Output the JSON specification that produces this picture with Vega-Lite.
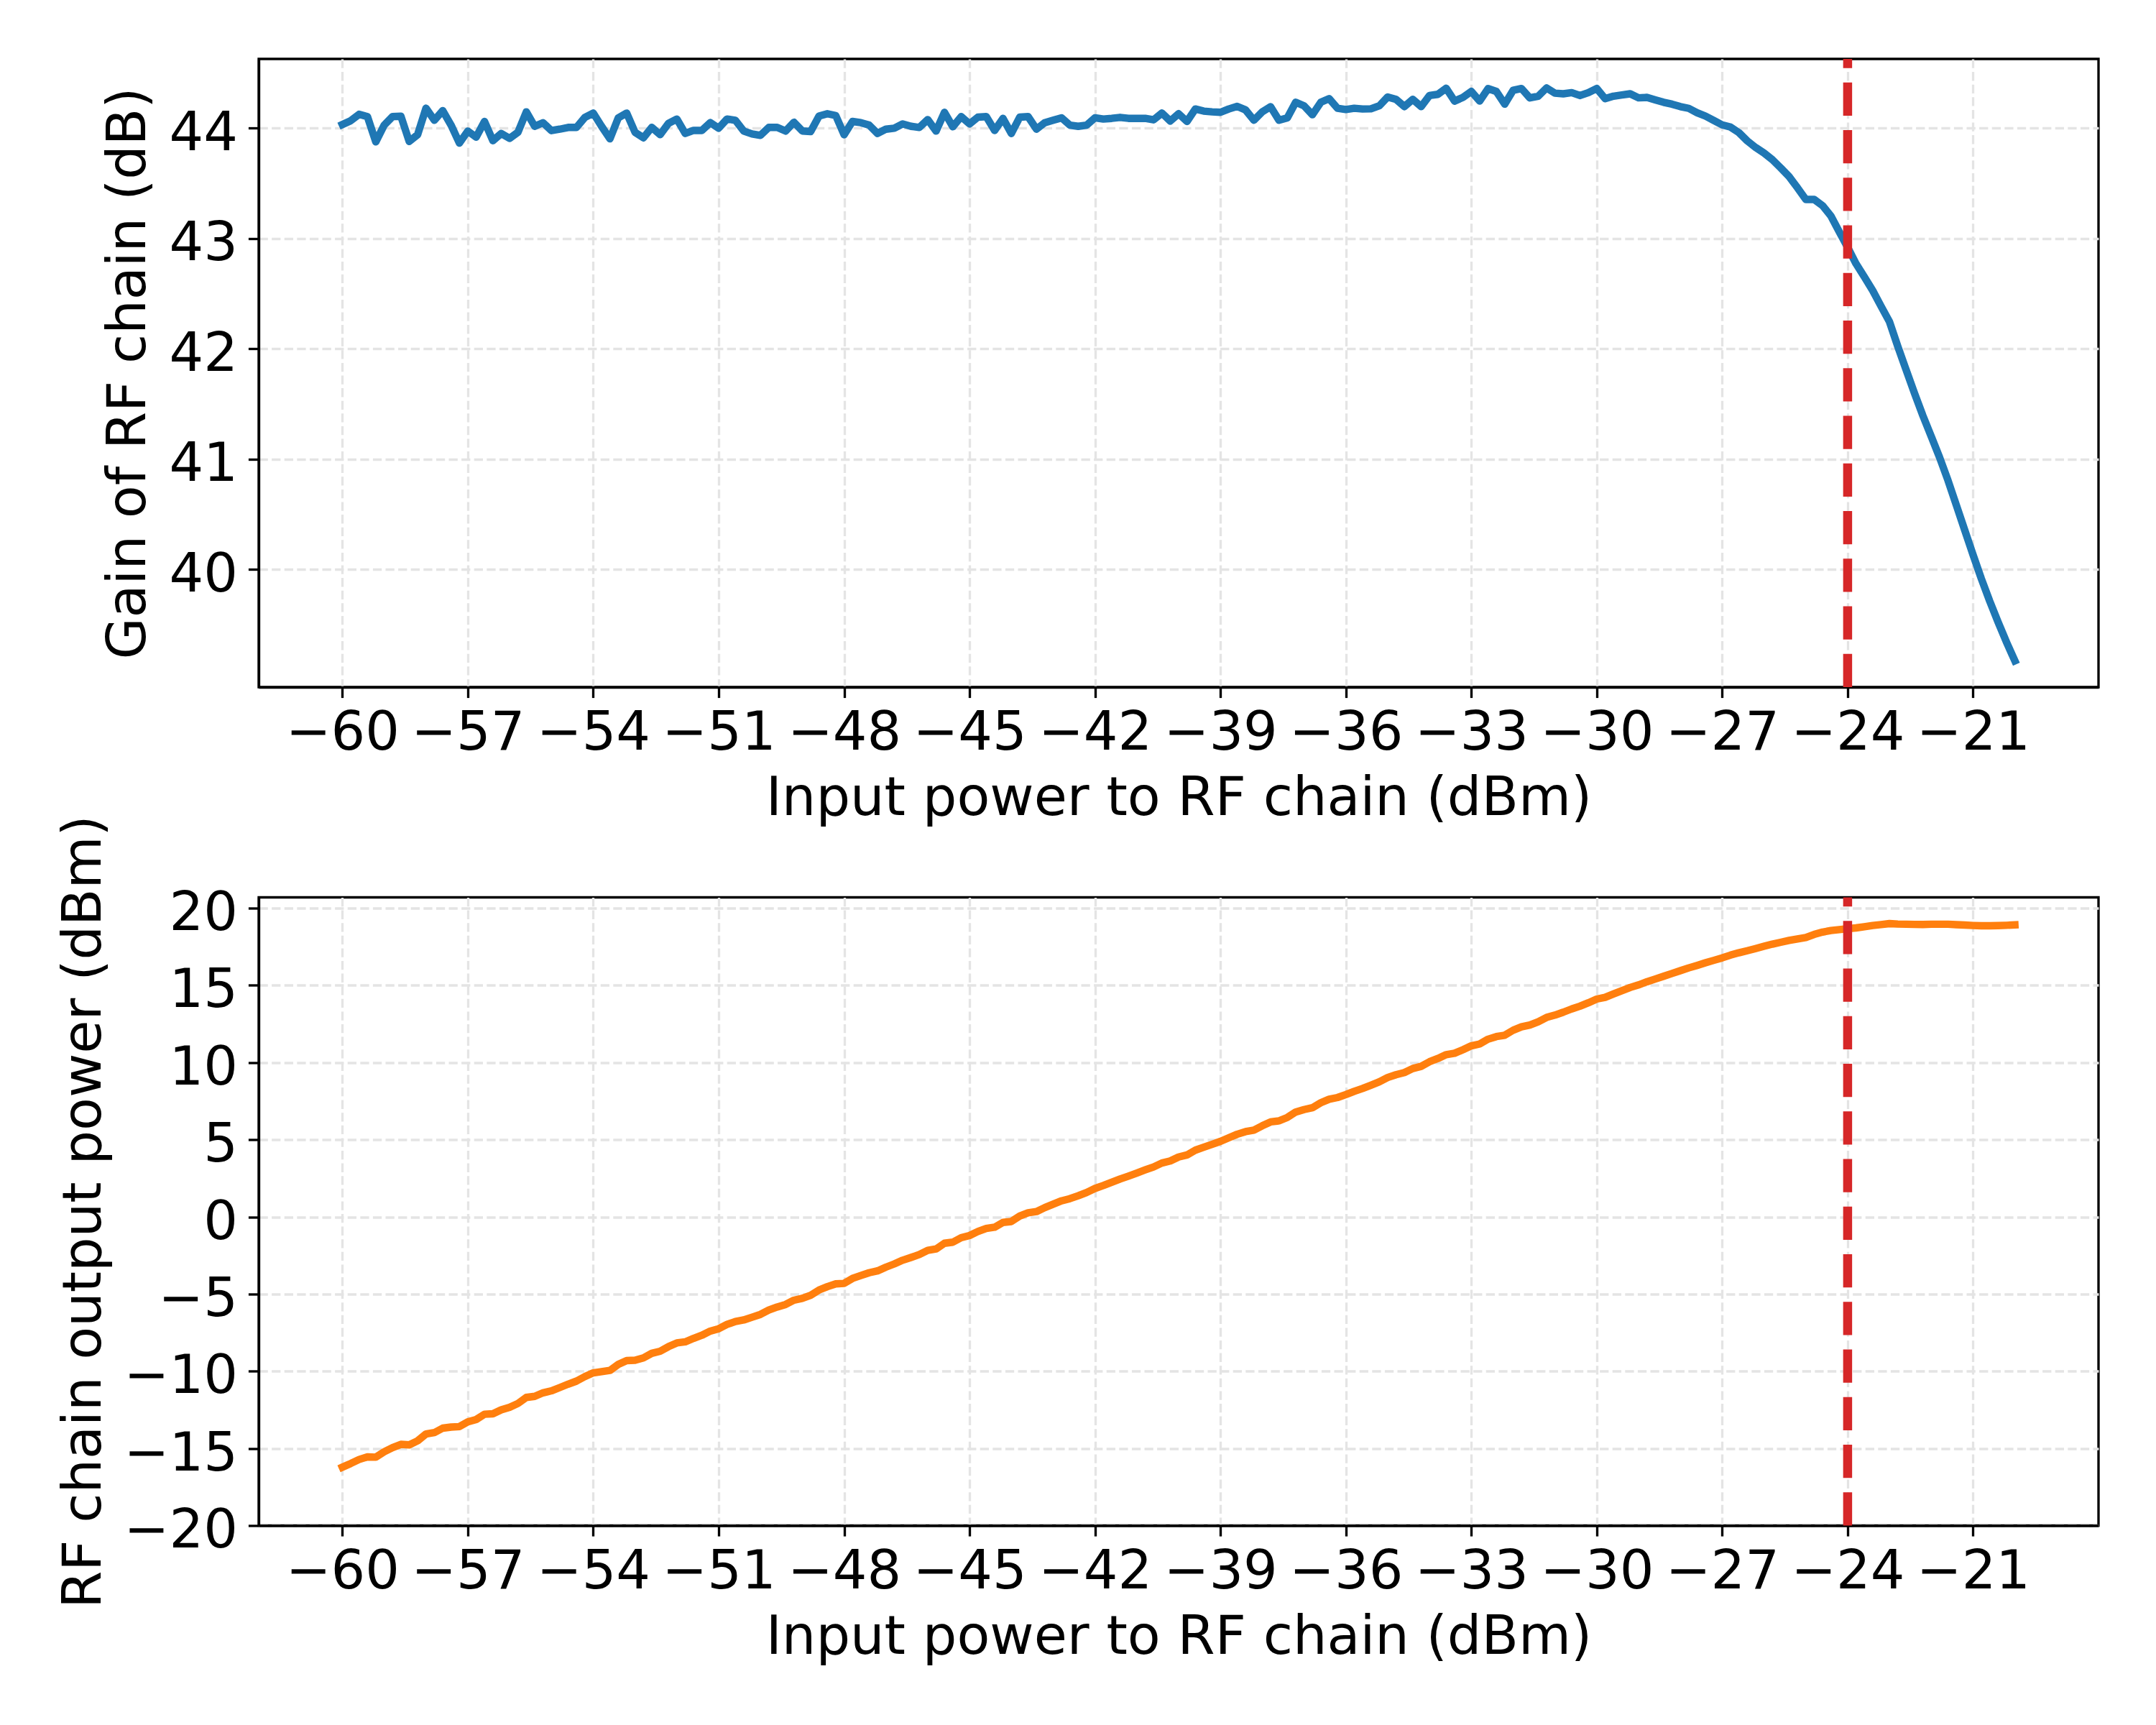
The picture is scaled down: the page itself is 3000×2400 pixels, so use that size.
{
  "$schema": "https://vega.github.io/schema/vega-lite/v6.json",
  "background": "white",
  "padding": {"left": 77, "top": 74, "right": 20, "bottom": 20},
  "bounds": "flush",
  "spacing": 292.5,
  "config": {
    "view": {"stroke": "black", "strokeWidth": 3.33},
    "font": "DejaVu Sans",
    "axis": {
      "domain": true,
      "domainColor": "black",
      "domainWidth": 3.33,
      "grid": true,
      "gridColor": "#e4e4e4",
      "gridWidth": 3.33,
      "gridDash": [12.3, 5.3],
      "tickColor": "black",
      "tickWidth": 3.33,
      "tickSize": 14.6,
      "labelFont": "DejaVu Sans",
      "labelFontSize": 75,
      "labelColor": "black",
      "titleFont": "DejaVu Sans",
      "titleFontSize": 75,
      "titleFontWeight": "normal",
      "titleColor": "black",
      "labelFlush": false,
      "labelOverlap": false,
      "format": "d"
    },
    "axisX": {"labelPadding": 13, "titlePadding": 17},
    "axisY": {"labelPadding": 15, "titlePadding": 17, "labelOffset": 7}
  },
  "datasets": {
    "meas": [
      {"x":-60,"g":44.033,"p":-16.22},{"x":-59.8,"g":44.068,"p":-15.98},{"x":-59.6,"g":44.126,"p":-15.72},{"x":-59.4,"g":44.105,"p":-15.55},{"x":-59.2,"g":43.876,"p":-15.57},
      {"x":-59,"g":44.028,"p":-15.22},{"x":-58.8,"g":44.105,"p":-14.95},{"x":-58.6,"g":44.109,"p":-14.74},{"x":-58.4,"g":43.88,"p":-14.77},{"x":-58.2,"g":43.941,"p":-14.51},
      {"x":-58,"g":44.181,"p":-14.07},{"x":-57.8,"g":44.072,"p":-13.98},{"x":-57.6,"g":44.159,"p":-13.69},{"x":-57.4,"g":44.028,"p":-13.62},{"x":-57.2,"g":43.865,"p":-13.59},
      {"x":-57,"g":43.974,"p":-13.28},{"x":-56.8,"g":43.919,"p":-13.13},{"x":-56.6,"g":44.061,"p":-12.79},{"x":-56.4,"g":43.887,"p":-12.76},{"x":-56.2,"g":43.952,"p":-12.5},
      {"x":-56,"g":43.908,"p":-12.34},{"x":-55.8,"g":43.963,"p":-12.09},{"x":-55.6,"g":44.148,"p":-11.7},{"x":-55.4,"g":44.017,"p":-11.63},{"x":-55.2,"g":44.05,"p":-11.4},
      {"x":-55,"g":43.978,"p":-11.27},{"x":-54.8,"g":43.991,"p":-11.06},{"x":-54.6,"g":44.007,"p":-10.84},{"x":-54.4,"g":44.007,"p":-10.64},{"x":-54.2,"g":44.098,"p":-10.35},
      {"x":-54,"g":44.137,"p":-10.11},{"x":-53.8,"g":44.017,"p":-10.03},{"x":-53.6,"g":43.904,"p":-9.95},{"x":-53.4,"g":44.094,"p":-9.56},{"x":-53.2,"g":44.137,"p":-9.31},
      {"x":-53,"g":43.963,"p":-9.29},{"x":-52.8,"g":43.913,"p":-9.14},{"x":-52.6,"g":44.007,"p":-8.84},{"x":-52.4,"g":43.941,"p":-8.71},{"x":-52.2,"g":44.044,"p":-8.41},
      {"x":-52,"g":44.083,"p":-8.17},{"x":-51.8,"g":43.952,"p":-8.1},{"x":-51.6,"g":43.98,"p":-7.87},{"x":-51.4,"g":43.98,"p":-7.67},{"x":-51.2,"g":44.05,"p":-7.4},
      {"x":-51,"g":44.0,"p":-7.25},{"x":-50.8,"g":44.083,"p":-6.97},{"x":-50.6,"g":44.072,"p":-6.78},{"x":-50.4,"g":43.974,"p":-6.68},{"x":-50.2,"g":43.948,"p":-6.5},
      {"x":-50,"g":43.935,"p":-6.32},{"x":-49.8,"g":44.007,"p":-6.04},{"x":-49.6,"g":44.007,"p":-5.84},{"x":-49.4,"g":43.974,"p":-5.68},{"x":-49.2,"g":44.054,"p":-5.4},
      {"x":-49,"g":43.975,"p":-5.28},{"x":-48.8,"g":43.97,"p":-5.08},{"x":-48.6,"g":44.11,"p":-4.74},{"x":-48.4,"g":44.131,"p":-4.52},{"x":-48.2,"g":44.115,"p":-4.34},
      {"x":-48,"g":43.941,"p":-4.31},{"x":-47.8,"g":44.061,"p":-3.99},{"x":-47.6,"g":44.05,"p":-3.8},{"x":-47.4,"g":44.028,"p":-3.62},{"x":-47.2,"g":43.952,"p":-3.5},
      {"x":-47,"g":43.991,"p":-3.26},{"x":-46.8,"g":44.0,"p":-3.05},{"x":-46.6,"g":44.039,"p":-2.81},{"x":-46.4,"g":44.017,"p":-2.63},{"x":-46.2,"g":44.007,"p":-2.44},
      {"x":-46,"g":44.078,"p":-2.17},{"x":-45.8,"g":43.974,"p":-2.08},{"x":-45.6,"g":44.144,"p":-1.71},{"x":-45.4,"g":44.013,"p":-1.64},{"x":-45.2,"g":44.105,"p":-1.35},
      {"x":-45,"g":44.039,"p":-1.21},{"x":-44.8,"g":44.1,"p":-0.95},{"x":-44.6,"g":44.105,"p":-0.75},{"x":-44.4,"g":43.98,"p":-0.67},{"x":-44.2,"g":44.089,"p":-0.36},
      {"x":-44,"g":43.952,"p":-0.3},{"x":-43.8,"g":44.1,"p":0.05},{"x":-43.6,"g":44.105,"p":0.26},{"x":-43.4,"g":43.991,"p":0.34},{"x":-43.2,"g":44.05,"p":0.6},
      {"x":-43,"g":44.072,"p":0.82},{"x":-42.8,"g":44.094,"p":1.04},{"x":-42.6,"g":44.028,"p":1.18},{"x":-42.4,"g":44.017,"p":1.37},{"x":-42.2,"g":44.028,"p":1.58},
      {"x":-42,"g":44.094,"p":1.84},{"x":-41.8,"g":44.083,"p":2.03},{"x":-41.6,"g":44.089,"p":2.24},{"x":-41.4,"g":44.098,"p":2.45},{"x":-41.2,"g":44.089,"p":2.64},
      {"x":-41,"g":44.089,"p":2.84},{"x":-40.8,"g":44.089,"p":3.04},{"x":-40.6,"g":44.076,"p":3.23},{"x":-40.4,"g":44.137,"p":3.49},{"x":-40.2,"g":44.065,"p":3.62},
      {"x":-40,"g":44.131,"p":3.88},{"x":-39.8,"g":44.061,"p":4.01},{"x":-39.6,"g":44.174,"p":4.32},{"x":-39.4,"g":44.155,"p":4.51},{"x":-39.2,"g":44.148,"p":4.7},
      {"x":-39,"g":44.144,"p":4.89},{"x":-38.8,"g":44.174,"p":5.12},{"x":-38.6,"g":44.198,"p":5.35},{"x":-38.4,"g":44.166,"p":5.52},{"x":-38.2,"g":44.072,"p":5.62},
      {"x":-38,"g":44.148,"p":5.9},{"x":-37.8,"g":44.195,"p":6.15},{"x":-37.6,"g":44.072,"p":6.22},{"x":-37.4,"g":44.094,"p":6.44},{"x":-37.2,"g":44.235,"p":6.79},
      {"x":-37,"g":44.203,"p":6.95},{"x":-36.8,"g":44.122,"p":7.07},{"x":-36.6,"g":44.235,"p":7.39},{"x":-36.4,"g":44.268,"p":7.62},{"x":-36.2,"g":44.181,"p":7.73},
      {"x":-36,"g":44.17,"p":7.92},{"x":-35.8,"g":44.181,"p":8.13},{"x":-35.6,"g":44.174,"p":8.32},{"x":-35.4,"g":44.176,"p":8.53},{"x":-35.2,"g":44.203,"p":8.75},
      {"x":-35,"g":44.283,"p":9.03},{"x":-34.8,"g":44.261,"p":9.21},{"x":-34.6,"g":44.196,"p":9.35},{"x":-34.4,"g":44.261,"p":9.61},{"x":-34.2,"g":44.196,"p":9.75},
      {"x":-34,"g":44.296,"p":10.05},{"x":-33.8,"g":44.307,"p":10.26},{"x":-33.6,"g":44.362,"p":10.51},{"x":-33.4,"g":44.246,"p":10.6},{"x":-33.2,"g":44.279,"p":10.83},
      {"x":-33,"g":44.333,"p":11.08},{"x":-32.8,"g":44.246,"p":11.2},{"x":-32.6,"g":44.359,"p":11.51},{"x":-32.4,"g":44.333,"p":11.68},{"x":-32.2,"g":44.218,"p":11.77},
      {"x":-32,"g":44.344,"p":12.09},{"x":-31.8,"g":44.36,"p":12.31},{"x":-31.6,"g":44.275,"p":12.43},{"x":-31.4,"g":44.29,"p":12.64},{"x":-31.2,"g":44.365,"p":12.92},
      {"x":-31,"g":44.318,"p":13.07},{"x":-30.8,"g":44.312,"p":13.26},{"x":-30.6,"g":44.322,"p":13.47},{"x":-30.4,"g":44.296,"p":13.65},{"x":-30.2,"g":44.322,"p":13.87},
      {"x":-30,"g":44.36,"p":14.11},{"x":-29.8,"g":44.268,"p":14.22},{"x":-29.6,"g":44.29,"p":14.44},{"x":-29.4,"g":44.301,"p":14.65},{"x":-29.2,"g":44.312,"p":14.86},
      {"x":-29,"g":44.275,"p":15.03},{"x":-28.8,"g":44.279,"p":15.23},{"x":-28.6,"g":44.257,"p":15.41},{"x":-28.4,"g":44.235,"p":15.59},{"x":-28.2,"g":44.218,"p":15.77},
      {"x":-28,"g":44.196,"p":15.95},{"x":-27.8,"g":44.18,"p":16.13},{"x":-27.6,"g":44.14,"p":16.29},{"x":-27.4,"g":44.11,"p":16.46},{"x":-27.2,"g":44.07,"p":16.62},
      {"x":-27,"g":44.03,"p":16.78},{"x":-26.8,"g":44.01,"p":16.96},{"x":-26.6,"g":43.96,"p":17.11},{"x":-26.4,"g":43.885,"p":17.24},{"x":-26.2,"g":43.825,"p":17.38},
      {"x":-26,"g":43.775,"p":17.53},{"x":-25.8,"g":43.715,"p":17.67},{"x":-25.6,"g":43.64,"p":17.79},{"x":-25.4,"g":43.561,"p":17.91},{"x":-25.2,"g":43.46,"p":18.01},
      {"x":-25,"g":43.354,"p":18.1},{"x":-24.8,"g":43.354,"p":18.3},{"x":-24.6,"g":43.298,"p":18.45},{"x":-24.4,"g":43.204,"p":18.55},{"x":-24.2,"g":43.061,"p":18.61},
      {"x":-24,"g":42.92,"p":18.67},{"x":-23.8,"g":42.772,"p":18.72},{"x":-23.6,"g":42.652,"p":18.8},{"x":-23.4,"g":42.528,"p":18.88},{"x":-23.2,"g":42.385,"p":18.94},
      {"x":-23,"g":42.246,"p":19.0},{"x":-22.8,"g":42.021,"p":18.97},{"x":-22.6,"g":41.807,"p":18.96},{"x":-22.4,"g":41.596,"p":18.95},{"x":-22.2,"g":41.393,"p":18.94},
      {"x":-22,"g":41.205,"p":18.96},{"x":-21.8,"g":41.014,"p":18.96},{"x":-21.6,"g":40.807,"p":18.96},{"x":-21.4,"g":40.582,"p":18.93},{"x":-21.2,"g":40.356,"p":18.91},
      {"x":-21,"g":40.131,"p":18.88},{"x":-20.8,"g":39.913,"p":18.86},{"x":-20.6,"g":39.71,"p":18.86},{"x":-20.4,"g":39.52,"p":18.87},{"x":-20.2,"g":39.34,"p":18.89},
      {"x":-20,"g":39.17,"p":18.92}
    ],
    "marker": [{"x": -24}]
  },
  "vconcat": [
    {
      "width": 2560,
      "height": 874,
      "encoding": {
        "x": {
          "field": "x", "type": "quantitative",
          "scale": {"domain": [-62, -18], "nice": false, "zero": false},
          "axis": {"title": "Input power to RF chain (dBm)", "values": [-60,-57,-54,-51,-48,-45,-42,-39,-36,-33,-30,-27,-24,-21]}
        }
      },
      "layer": [
        {
          "data": {"name": "meas"},
          "mark": {"type": "line", "color": "#1f77b4", "strokeWidth": 10.4, "strokeCap": "square", "strokeJoin": "round"},
          "encoding": {
            "y": {
              "field": "g", "type": "quantitative",
              "scale": {"domain": [38.932, 44.628], "nice": false, "zero": false},
              "axis": {"title": "Gain of RF chain (dB)", "values": [40, 41, 42, 43, 44]}
            }
          }
        },
        {
          "data": {"name": "marker"},
          "mark": {"type": "rule", "color": "#d62728", "strokeWidth": 12.5, "strokeDash": [46.25, 20]},
          "encoding": {
            "y": {"datum": 38.932, "type": "quantitative"},
            "y2": {"datum": 44.628}
          }
        }
      ]
    },
    {
      "width": 2560,
      "height": 874,
      "encoding": {
        "x": {
          "field": "x", "type": "quantitative",
          "scale": {"domain": [-62, -18], "nice": false, "zero": false},
          "axis": {"title": "Input power to RF chain (dBm)", "values": [-60,-57,-54,-51,-48,-45,-42,-39,-36,-33,-30,-27,-24,-21]}
        }
      },
      "layer": [
        {
          "data": {"name": "meas"},
          "mark": {"type": "line", "color": "#ff7f0e", "strokeWidth": 10.4, "strokeCap": "square", "strokeJoin": "round"},
          "encoding": {
            "y": {
              "field": "p", "type": "quantitative",
              "scale": {"domain": [-20, 20.7], "nice": false, "zero": false},
              "axis": {"title": "RF chain output power (dBm)", "values": [-20, -15, -10, -5, 0, 5, 10, 15, 20]}
            }
          }
        },
        {
          "data": {"name": "marker"},
          "mark": {"type": "rule", "color": "#d62728", "strokeWidth": 12.5, "strokeDash": [46.25, 20]},
          "encoding": {
            "y": {"datum": -20, "type": "quantitative"},
            "y2": {"datum": 20.7}
          }
        }
      ]
    }
  ]
}
